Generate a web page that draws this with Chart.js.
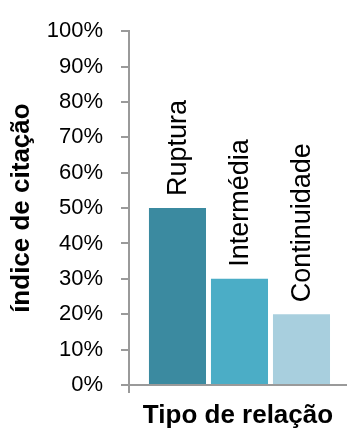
<!DOCTYPE html>
<html>
<head>
<meta charset="utf-8">
<script src="https://cdn.jsdelivr.net/npm/chart.js@4"></script>
<style>
  html, body { margin: 0; padding: 0; background: #fff; }
  canvas { display: block; }
</style>
</head>
<body>
<canvas id="relChart" width="347" height="428"></canvas>
<script>
const categories = ['Ruptura', 'Intermédia', 'Continuidade'];
const valores = [50, 30, 20];
const cores = ['#3b8aa0', '#4badc6', '#a8cfde'];
const yTicks = [0, 10, 20, 30, 40, 50, 60, 70, 80, 90, 100];

const axisGray = '#9a9a9a';

// rótulos rodados por cima das barras
const rotulosBarras = {
    id: 'rotulosBarras',
    afterDatasetsDraw(chart) {
        const ctx = chart.ctx;
        const meta = chart.getDatasetMeta(0);
        ctx.save();
        ctx.font = '27px "Liberation Sans", Arial, sans-serif';
        ctx.fillStyle = '#000';
        ctx.textAlign = 'left';
        ctx.textBaseline = 'middle';
        meta.data.forEach((bar, i) => {
            ctx.save();
            ctx.translate(bar.x, bar.y - 12);
            ctx.rotate(-Math.PI / 2);
            ctx.fillText(categories[i], 0, 1);
            ctx.restore();
        });
        ctx.restore();
    }
};

const ctx = document.getElementById('relChart').getContext('2d');
new Chart(ctx, {
    type: 'bar',
    data: {
        datasets: [{
            data: categories.map((c, i) => ({ x: i + 1, y: valores[i] })),
            backgroundColor: cores,
            borderWidth: 0,
            categoryPercentage: 1,
            barPercentage: 0.92
        }]
    },
    options: {
        responsive: false,
        animation: false,
        devicePixelRatio: 1,
        layout: { padding: { top: 25, right: 0, left: 0, bottom: 0 } },
        plugins: { legend: { display: false }, tooltip: { enabled: false } },
        scales: {
            x: {
                type: 'linear',
                offset: false,
                min: 0.218,
                max: 3.734,
                afterBuildTicks(scale) { scale.ticks = [{ value: scale.min }]; },
                afterFit(scale) { scale.height = 43; },
                ticks: { display: false },
                grid: { offset: false, drawOnChartArea: false, tickLength: 8, color: axisGray, lineWidth: 2 },
                border: { display: true, color: axisGray, width: 2 },
                title: {
                    display: true,
                    text: 'Tipo de relação',
                    color: '#000',
                    font: { family: '"Liberation Sans", Arial, sans-serif', size: 26, weight: 'bold', lineHeight: 0.9 },
                    padding: { top: 0, bottom: 0 }
                }
            },
            y: {
                min: 0,
                max: 100,
                afterBuildTicks(scale) { scale.ticks = yTicks.map(v => ({ value: v })); },
                afterFit(scale) { scale.width = 129; },
                ticks: {
                    color: '#000',
                    padding: 18,
                    font: { family: '"Liberation Sans", Arial, sans-serif', size: 22 },
                    callback: v => v + '%'
                },
                grid: { drawOnChartArea: false, tickLength: 8, color: axisGray, lineWidth: 2 },
                border: { display: true, color: axisGray, width: 2 },
                title: {
                    display: true,
                    text: 'índice de citação',
                    color: '#000',
                    font: { family: '"Liberation Sans", Arial, sans-serif', size: 26, weight: 'bold', lineHeight: 1.2 },
                    padding: { top: 6, bottom: 0 }
                }
            }
        }
    },
    plugins: [rotulosBarras]
});
</script>
</body>
</html>
